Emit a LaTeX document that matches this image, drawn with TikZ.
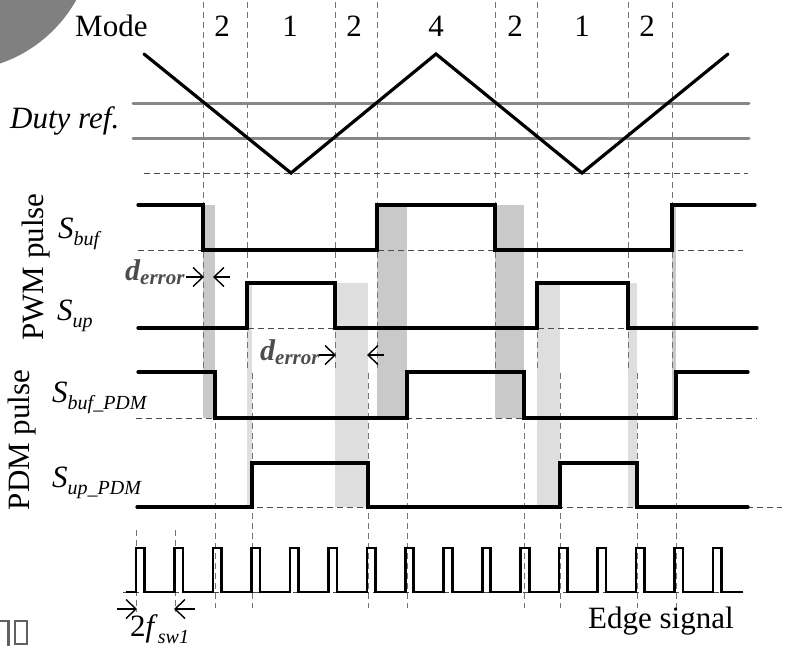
\documentclass[tikz,border=0pt]{standalone}
\usepackage{fontspec}
\setmainfont{Liberation Serif}
\newcommand\fsz[1]{\fontsize{#1}{#1}\selectfont}
\newcommand\sbx[1]{\raisebox{-7pt}{\fsz{20}#1}}
\begin{document}
\begin{tikzpicture}[x=1pt,y=-1pt,
  sig/.style={line width=3.2pt, line cap=round, line join=miter},
  tri/.style={line width=3.2pt, line cap=round, line join=miter},
  edgesig/.style={line width=2.6pt, line join=miter},
  vdash/.style={draw=black!55, line width=0.9pt, dash pattern=on 6pt off 4pt},
  hdash/.style={draw=black!70, line width=1pt, dash pattern=on 6pt off 4pt},
  shadeA/.style={fill=black!21},
  shadeB/.style={fill=black!13},
  dutyline/.style={draw=black!47, line width=3pt, line cap=round},
  lbl/.style={inner sep=0pt, anchor=base west, font=\fsz{31}},
  modenum/.style={inner sep=0pt, anchor=base, font=\fsz{31}},
  dlbl/.style={inner sep=0pt, anchor=base west, font=\fsz{30}\bfseries\itshape, text=black!70},
  arrline/.style={line width=1.4pt, line join=miter},
  rotlbl/.style={rotate=90, anchor=base, inner sep=0pt, font=\fsz{31}},
  wm/.style={draw=black!62, line width=2.7pt}
]
\useasboundingbox (0,0) rectangle (785,646);
\clip (0,0) rectangle (785,646);

% watermark fragments
\fill[black!50] (-45,-68) circle (139pt);
\draw[wm] (0,621) -- (8.5,621) -- (8.5,646);
\draw[wm] (15,621) rectangle (27,644);

% shading columns
\foreach \a/\b in {203/215, 377/407, 495/524, 672/676}
  \path[shadeA] (\a,205) rectangle (\b,418);
\foreach \a/\b in {247/252, 335/368, 537/560, 628/637}
  \path[shadeB] (\a,283) rectangle (\b,507);

% mode boundary dashed lines
\foreach \x in {203,247,335,377,495,537,628,672}
  \draw[vdash] (\x,2) -- (\x,372);
% PDM dashed lines
\foreach \x in {215,252,368,407,524,560,637,676}
  \draw[vdash] (\x,373) -- (\x,608);
\draw[vdash] (136,530) -- (136,612);
\draw[vdash] (175,530) -- (175,612);

% horizontal dashed base lines
\draw[hdash] (144,173) -- (748,173);
\draw[hdash] (138,250) -- (743,250);
\draw[hdash] (138,328) -- (757,328);
\draw[hdash] (136,418) -- (757,418);
\draw[hdash] (137,507) -- (782,507);
\draw[hdash] (123,592) -- (743,592);

% duty reference lines
\draw[dutyline] (133,103) -- (749,103);
\draw[dutyline] (133,138) -- (749,138);

% carrier triangle
\draw[tri] (144,54) -- (291,173) -- (436,54) -- (582,173) -- (728,54);

% PWM signals
\draw[sig] (138,205) -- (203,205) -- (203,250) -- (377,250) -- (377,205) -- (495,205) -- (495,250) -- (672,250) -- (672,205) -- (755,205);
\draw[sig] (138,328) -- (247,328) -- (247,283) -- (335,283) -- (335,328) -- (537,328) -- (537,283) -- (628,283) -- (628,328) -- (757,328);
% PDM signals
\draw[sig] (138,372) -- (215,372) -- (215,418) -- (407,418) -- (407,372) -- (524,372) -- (524,418) -- (676,418) -- (676,372) -- (748,372);
\draw[sig] (137,507) -- (252,507) -- (252,463) -- (368,463) -- (368,507) -- (560,507) -- (560,463) -- (637,463) -- (637,507) -- (748,507);

% edge signal
\draw[edgesig] (126,592) \foreach \k in {0,...,15} { -- ({136+38.47*\k},592) -- ++(0,-44) -- ++(8.5,0) -- ++(0,44) } -- (743,592);

% texts
\node[lbl] (mode) at (75,36) {Mode};
\node[modenum] (m1) at (222,36) {2};
\node[modenum] (m2) at (290,36) {1};
\node[modenum] (m3) at (354,36) {2};
\node[modenum] (m4) at (436,36) {4};
\node[modenum] (m5) at (515,36) {2};
\node[modenum] (m6) at (582,36) {1};
\node[modenum] (m7) at (647,36) {2};
\node[lbl] (duty) at (10,128) {\itshape Duty ref.};

\node[rotlbl] (pwm) at (43,267) {PWM pulse};
\node[rotlbl] (pdm) at (30,440) {PDM pulse};

\node[lbl] (sbuf) at (58,238) {\itshape S\sbx{buf}};
\node[lbl] (sup) at (57,320) {\itshape S\sbx{up}};
\node[lbl] (sbufpdm) at (52,402) {\itshape S\sbx{buf\_PDM}};
\node[lbl] (suppdm) at (52,487) {\itshape S\sbx{up\_PDM}};

\node[dlbl] (d1) at (125,280) {d\raisebox{-4pt}{\fsz{21}error}};
\node[dlbl] (d2) at (260,360) {d\raisebox{-4pt}{\fsz{21}error}};

% arrows (right-pointing: s -> e with e right of s)
\coordinate (a1s) at (186,277); \coordinate (a1e) at (203,277);
\coordinate (a2s) at (230,277); \coordinate (a2e) at (214,277);
\coordinate (b1s) at (319,355); \coordinate (b1e) at (335,355);
\coordinate (b2s) at (384,355); \coordinate (b2e) at (368,355);
\coordinate (c1s) at (117,609); \coordinate (c1e) at (136,609);
\coordinate (c2s) at (195,609); \coordinate (c2e) at (175,609);
\foreach \s/\e in {a1s/a1e, b1s/b1e, c1s/c1e} {
  \draw[arrline] (\s) -- (\e);
  \draw[arrline] ([shift={(-10,-9.5)}]\e) -- (\e) -- ([shift={(-10,9.5)}]\e);
}
\foreach \s/\e in {a2s/a2e, b2s/b2e, c2s/c2e} {
  \draw[arrline] (\s) -- (\e);
  \draw[arrline] ([shift={(10,-9.5)}]\e) -- (\e) -- ([shift={(10,9.5)}]\e);
}

\node[lbl] (fsw) at (130,636) {2\textit{f}\sbx{\itshape sw1}};
\node[lbl] (edge) at (588,628) {Edge signal};
\end{tikzpicture}
\end{document}
